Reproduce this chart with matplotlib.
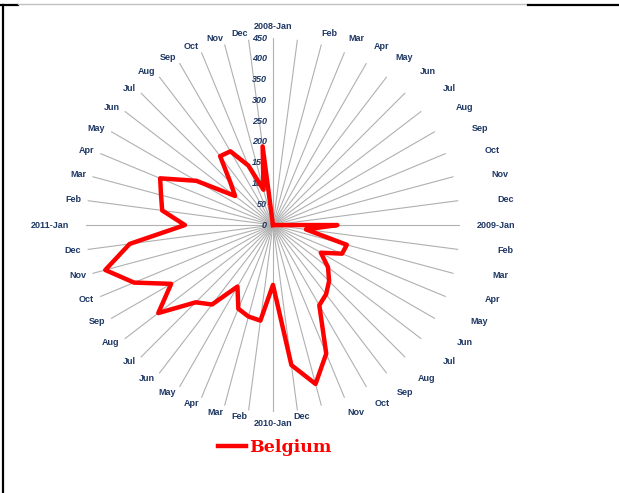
import numpy as np
import matplotlib
matplotlib.use("Agg")
import matplotlib.pyplot as plt
from matplotlib.lines import Line2D
from matplotlib.transforms import offset_copy

years = ['2008', '2009', '2010', '2011']
months = ['Jan', 'Feb', 'Mar', 'Apr', 'May', 'Jun',
          'Jul', 'Aug', 'Sep', 'Oct', 'Nov', 'Dec']
labels = [y + '-' + m if m == 'Jan' else m for y in years for m in months]

# monthly values
belgium = [0, 0, 0, 0, 0, 0, 0, 0, 0, 0, 0, 0,
           155, 80, 184, 180, 133, 167, 191, 210, 223, 335, 396, 340,
           144, 232, 228, 218, 171, 241, 263, 348, 283, 362, 418, 348,
           212, 269, 279, 294, 213, 115, 145, 209, 205, 155, 88, 191]
r_ticks = [0, 50, 100, 150, 200, 250, 300, 350, 400, 450]

NAVY = '#1f3864'
W, H = 619, 493

fig = plt.figure(figsize=(W / 100, H / 100), dpi=100)
ax = fig.add_axes([0.139, 0.164, 0.604, 0.759], projection='polar')
ax.set_theta_zero_location('N')
ax.set_theta_direction(-1)
ax.set_ylim(0, 450)

n = len(labels)
theta = np.arange(n) * 2 * np.pi / n
ax.set_xticks(theta)
ax.set_xticklabels([])
ax.set_yticks([])
ax.xaxis.grid(True, color='#b0b0b0', lw=0.8)
ax.spines['polar'].set_visible(False)

ax.plot(np.append(theta, theta[0]), belgium + [belgium[0]], color='red',
        lw=3.2, solid_joinstyle='round', label='Belgium', zorder=5)

# category labels: left half right-aligned at the spoke end,
# right half right-aligned in a column further out (like Excel)
for t, lab in zip(theta, labels):
    s, c = np.sin(t), np.cos(t)
    r, dx, ha = 466, 0, 'right'
    if abs(s) < 0.01:
        r, ha = 477, 'center'
    elif s > 0 and c < -0.98:
        dx, ha = 3, 'center'
    elif s > 0:
        dx = 38 + 11 * s
    if s < -0.999:
        dx -= 10
    tr = offset_copy(ax.transData, fig=fig, x=dx, y=0, units='dots')
    ax.text(t, r, lab, transform=tr, ha=ha, va='center', fontsize=6.5,
            fontweight='bold', color=NAVY, family='Liberation Sans')

# radial value labels left of the top spoke
off = offset_copy(ax.transData, fig=fig, x=-6, y=0, units='dots')
for v in r_ticks:
    ax.text(0, v, str(v), transform=off, ha='right', va='center',
            fontsize=6.5, fontstyle='italic', fontweight='bold', color=NAVY,
            family='Liberation Sans')

leg = ax.legend(loc='center left', bbox_to_anchor=(218 / W, 1 - 448 / H),
                bbox_transform=fig.transFigure, frameon=False,
                borderpad=0, borderaxespad=0, handlelength=1.6,
                handletextpad=0.2,
                prop={'family': 'DejaVu Serif', 'weight': 'bold', 'size': 12.5})
for txt in leg.get_texts():
    txt.set_color('red')

# frame lines of the original table cell
ytop = 1 - 5 / H
fig.add_artist(Line2D([3 / W, 3 / W], [0, ytop], transform=fig.transFigure,
                      color='black', lw=1.6))
fig.add_artist(Line2D([0, 18 / W], [ytop, ytop], transform=fig.transFigure,
                      color='black', lw=1.6))
fig.add_artist(Line2D([18 / W, 528 / W], [ytop + 0.002, ytop + 0.002],
                      transform=fig.transFigure, color='#c0c0c0', lw=1.0))
fig.add_artist(Line2D([528 / W, 1], [ytop, ytop], transform=fig.transFigure,
                      color='black', lw=1.6))

fig.savefig('out.png', dpi=100)
